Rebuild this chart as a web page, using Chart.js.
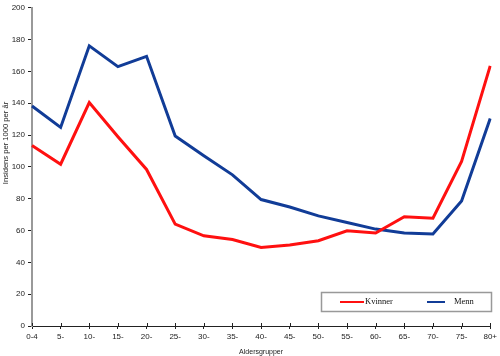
<!DOCTYPE html>
<html><head><meta charset="utf-8">
<script src="https://cdn.jsdelivr.net/npm/chart.js@4/dist/chart.umd.min.js"></script>
<style>html,body{margin:0;padding:0;background:#fff}#wrap{width:500px;height:356px;position:relative}</style>
</head><body><div id="wrap"><canvas id="c" width="500" height="356"></canvas></div>
<script>
const categories = ["0-4","5-","10-","15-","20-","25-","30-","35-","40-","45-","50-","55-","60-","65-","70-","75-","80+"];
const kvinner = [113.5,101.7,140.4,119,98.4,64,56.7,54.4,49.4,50.9,53.6,59.8,58.4,68.7,67.7,103.4,163.5];
const menn = [138.3,124.8,176.1,163,169.5,119.4,107,95,79.5,74.8,69.2,65,60.9,58.4,57.8,78.5,130.4];
const yTicks = [0,20,40,60,80,100,120,140,160,180,200];
const yTitle = "Insidens per 1000 per år";
const xTitle = "Aldersgrupper";

const legendPlugin = {
  id: 'boxLegend',
  afterDraw(chart) {
    const ctx = chart.ctx;
    const x0 = 321, y0 = 292, w = 170, h = 19;
    ctx.save();
    ctx.fillStyle = '#fff';
    ctx.fillRect(x0, y0, w, h);
    ctx.strokeStyle = '#999';
    ctx.lineWidth = 1.5;
    ctx.strokeRect(x0 + 0.5, y0 + 0.5, w, h);
    const items = chart.data.datasets;
    const sx = [340, 427];
    const sl = [24, 18];
    const tx = [365, 454];
    ctx.font = '8.5px "Liberation Serif", serif';
    ctx.textBaseline = 'middle';
    items.forEach((ds, i) => {
      ctx.strokeStyle = ds.borderColor;
      ctx.lineWidth = 2;
      ctx.beginPath();
      ctx.moveTo(sx[i], y0 + 10);
      ctx.lineTo(sx[i] + sl[i], y0 + 10);
      ctx.stroke();
      ctx.fillStyle = '#111';
      ctx.fillText(ds.label, tx[i], y0 + 10);
    });
    ctx.restore();
  }
};

const extras = {
  id: 'extras',
  afterDraw(chart) {
    const ctx = chart.ctx, xs = chart.scales.x, ys = chart.scales.y;
    ctx.save();
    ctx.strokeStyle = '#222';
    ctx.lineWidth = 1;
    ctx.beginPath();
    for (let i = 0; i < xs.ticks.length; i++) {
      const px = Math.round(xs.getPixelForTick(i)) + 0.5;
      ctx.moveTo(px, ys.bottom - 3);
      ctx.lineTo(px, ys.bottom);
    }
    ctx.stroke();
    ctx.translate(6, 143);
    ctx.rotate(-Math.PI / 2);
    ctx.font = '7.6px "Liberation Sans", sans-serif';
    ctx.fillStyle = '#222';
    ctx.textAlign = 'center';
    ctx.textBaseline = 'middle';
    ctx.fillText(yTitle, 0, 0);
    ctx.restore();
  }
};

new Chart(document.getElementById('c'), {
  type: 'line',
  data: {
    labels: categories,
    datasets: [
      {label: 'Kvinner', data: kvinner, borderColor: '#ff1010', borderWidth: 3, pointRadius: 0, tension: 0, fill: false},
      {label: 'Menn', data: menn, borderColor: '#113c97', borderWidth: 3, pointRadius: 0, tension: 0, fill: false}
    ]
  },
  options: {
    responsive: false,
    animation: false,
    layout: {padding: {top: 5, right: 8, left: 0, bottom: 0}},
    plugins: {legend: {display: false}, tooltip: {enabled: false}},
    scales: {
      x: {
        offset: false,
        grid: {display: true, drawOnChartArea: false, drawTicks: true, tickLength: 3, color: '#222', lineWidth: 1},
        border: {display: true, color: '#222', width: 1},
        ticks: {color: '#222', font: {family: 'Liberation Sans', size: 8}, padding: 3, maxRotation: 0, autoSkip: false},
        title: {display: true, text: xTitle, color: '#222', font: {family: 'Liberation Sans', size: 7}, padding: {top: 2, bottom: 0}},
        afterFit(s) { s.height = 30; }
      },
      y: {
        min: 0, max: 200,
        afterBuildTicks(s) { s.ticks = yTicks.map(v => ({value: v})); },
        grid: {display: true, drawOnChartArea: false, drawTicks: true, tickLength: 4, color: '#222', lineWidth: 1},
        border: {display: true, color: '#999', width: 2},
        ticks: {color: '#222', font: {family: 'Liberation Sans', size: 8}, padding: 3},
        afterFit(s) { s.width = 32; }
      }
    }
  },
  plugins: [legendPlugin, extras]
});
</script></body></html>
